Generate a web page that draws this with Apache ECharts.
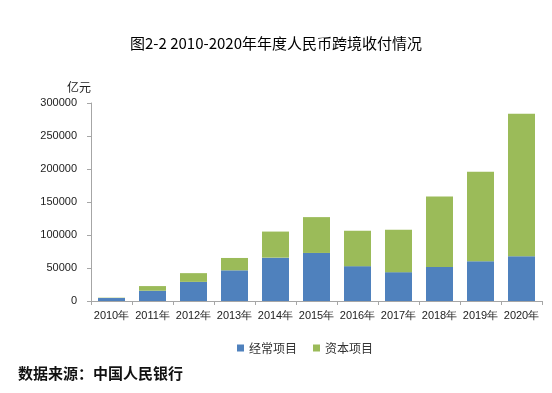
<!DOCTYPE html>
<html><head><meta charset="utf-8">
<script src="https://cdn.jsdelivr.net/npm/echarts@6/dist/echarts.min.js"></script>
<style>html,body{margin:0;padding:0;background:#fff}#c{width:552px;height:393px}</style>
</head><body><div id="c"></div>
<script>
var categories = ['2010年','2011年','2012年','2013年','2014年','2015年','2016年','2017年','2018年','2019年','2020年'];
var currentAccount = [4500, 15600, 29000, 46500, 65700, 72800, 52800, 43700, 51500, 60300, 67700];
var capitalAccount = [500, 7000, 13200, 18700, 39500, 54300, 53800, 64300, 106800, 135700, 215900];
var seriesNames = ['经常项目','资本项目'];
var yTicks = {min:0, max:300000, interval:50000};

var chart = echarts.init(document.getElementById('c'));
var font = '"Noto Sans CJK SC", sans-serif';
chart.setOption({
  animation:false,
  title:{text:'图2-2 2010-2020年年度人民币跨境收付情况', left:'center', top:31,
    textStyle:{fontFamily:font, fontSize:15, fontWeight:'normal', color:'#000'}},
  graphic:[{type:'text', left:18, top:366, style:{text:'数据来源：中国人民银行', font:'bold 15px "Noto Sans CJK SC"', fill:'#111'}}],
  legend:{left:232, top:337, itemWidth:7, itemHeight:7, itemGap:16, icon:'rect',
    textStyle:{fontFamily:font, fontSize:12, color:'#333'}, data:seriesNames},
  grid:{left:91, right:10, top:103, bottom:92},
  xAxis:{type:'category', data:categories,
    axisLine:{lineStyle:{color:'#a6a6a6'}},
    axisTick:{show:true, alignWithLabel:false, length:4, lineStyle:{color:'#a6a6a6'}},
    axisLabel:{fontFamily:'Liberation Sans, Arial', fontSize:11, color:'#222', margin:9, interval:0}},
  yAxis:{type:'value', min:yTicks.min, max:yTicks.max, interval:yTicks.interval,
    name:'亿元', nameLocation:'end', nameGap:10,
    nameTextStyle:{fontFamily:font, fontSize:12, color:'#222', align:'right'},
    axisLine:{show:true, lineStyle:{color:'#a6a6a6'}},
    axisTick:{show:true, length:4, lineStyle:{color:'#a6a6a6'}},
    splitLine:{show:false},
    axisLabel:{fontFamily:'Liberation Sans, Arial', fontSize:11, color:'#222', margin:14,
      formatter:function(v){return String(v);}}},
  series:[
    {name:seriesNames[0], type:'bar', stack:'t', data:currentAccount, barWidth:27, itemStyle:{color:'#4f81bd'}},
    {name:seriesNames[1], type:'bar', stack:'t', data:capitalAccount, barWidth:27, itemStyle:{color:'#9bbb59'}}
  ]
});
</script></body></html>
